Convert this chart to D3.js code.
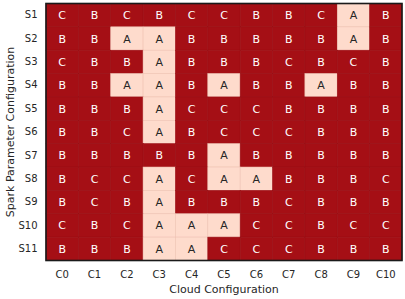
<!DOCTYPE html>
<html lang="en">
<head>
<meta charset="UTF-8">
<title>Heatmap</title>
<script src="https://d3js.org/d3.v7.min.js"></script>
<style>
  body { margin: 0; background: #fff; }
  text { font-family: "DejaVu Sans", sans-serif; }
</style>
</head>
<body>
<script>
    const clouds = ["C0", "C1", "C2", "C3", "C4", "C5", "C6", "C7", "C8", "C9", "C10"];
    const sparks = ["S1", "S2", "S3", "S4", "S5", "S6", "S7", "S8", "S9", "S10", "S11"];

    // one string per spark configuration, one letter per cloud configuration
    const grades = [
        "CBCBCCBBCAB",
        "BBAABBBBBAB",
        "CBBABBBCBCB",
        "BBAABABBABB",
        "BBBACCCBBBB",
        "BBCABCCCBBB",
        "BBBBBABBBBB",
        "BCCACAABBBC",
        "BCBABBBCBBB",
        "CBCAAACCBCC",
        "BBBAACCCBBB"
    ];

    const w = 405, h = 299;
    const margin = { top: 3.5, right: 3, bottom: 38.5, left: 46 };
    const iw = w - margin.left - margin.right;
    const ih = h - margin.top - margin.bottom;

    const svg = d3.select("body").append("svg")
        .attr("width", w)
        .attr("height", h);

    const g = svg.append("g")
        .attr("transform", "translate(" + margin.left + "," + margin.top + ")");

    const x = d3.scaleBand().domain(clouds).range([0, iw]);
    const y = d3.scaleBand().domain(sparks).range([0, ih]);

    const fill = d3.scaleOrdinal()
        .domain(["A", "B", "C"])
        .range(["#fedbcc", "#a50f15", "#a50f15"]);

    const cells = [];
    sparks.forEach((s, i) => {
        clouds.forEach((c, j) => {
            cells.push({ s: s, c: c, v: grades[i][j] });
        });
    });

    g.selectAll("rect.cell")
        .data(cells)
        .enter()
        .append("rect")
        .attr("class", "cell")
        .attr("x", d => x(d.c))
        .attr("y", d => y(d.s))
        .attr("width", x.bandwidth())
        .attr("height", y.bandwidth())
        .attr("fill", d => fill(d.v))
        .attr("stroke", d => d.v === "A" ? "#efc3b3" : "#9a0e14")
        .attr("stroke-width", 0.6);

    g.selectAll("text.lab")
        .data(cells)
        .enter()
        .append("text")
        .attr("class", "lab")
        .attr("x", d => x(d.c) + x.bandwidth() / 2)
        .attr("y", d => y(d.s) + y.bandwidth() / 2)
        .attr("dy", "0.36em")
        .attr("text-anchor", "middle")
        .attr("font-size", 11)
        .attr("fill", d => d.v === "A" ? "#262626" : "#ffffff")
        .text(d => d.v);

    // frame
    g.append("rect")
        .attr("width", iw)
        .attr("height", ih)
        .attr("fill", "none")
        .attr("stroke", "#1a1a1a")
        .attr("stroke-width", 1.6);

    // axes without tick marks
    const xAxis = g.append("g")
        .attr("transform", "translate(0," + ih + ")")
        .call(d3.axisBottom(x).tickSize(0).tickPadding(10.5));
    const yAxis = g.append("g")
        .call(d3.axisLeft(y).tickSize(0).tickPadding(8.5));
    [xAxis, yAxis].forEach(a => {
        a.select(".domain").remove();
        a.selectAll("text")
            .attr("font-size", 10)
            .attr("font-family", "DejaVu Sans, sans-serif")
            .attr("fill", "#262626");
    });

    svg.append("text")
        .attr("x", margin.left + iw / 2)
        .attr("y", 292.5)
        .attr("text-anchor", "middle")
        .attr("font-size", 11)
        .attr("fill", "#262626")
        .text("Cloud Configuration");

    svg.append("text")
        .attr("transform", "translate(13.5," + (margin.top + ih / 2) + ") rotate(-90)")
        .attr("text-anchor", "middle")
        .attr("font-size", 11)
        .attr("fill", "#262626")
        .text("Spark Parameter Configuration");
</script>
</body>
</html>
